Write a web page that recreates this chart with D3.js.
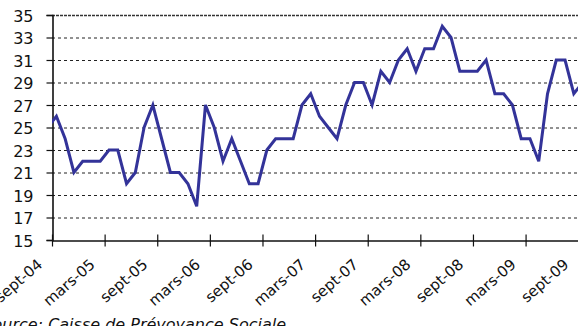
<!DOCTYPE html>
<html>
<head>
<meta charset="utf-8">
<script src="https://cdn.jsdelivr.net/npm/d3@7"></script>
<style>
  html, body { margin: 0; padding: 0; background: #fff; }
  svg { display: block; }
  .ylab { font-family: "DejaVu Sans", sans-serif; font-size: 16px; fill: #111; }
  .xlab { font-family: "DejaVu Sans", sans-serif; font-size: 15px; fill: #111; }
  .src  { font-family: "DejaVu Sans", sans-serif; font-size: 16px; font-style: italic; fill: #111; }
</style>
</head>
<body>
<svg id="chart" width="578" height="326"></svg>
<script>
// Monthly series, août-04 through sept-09 (first value sits just before the axis start)
const firstMonthOffset = -1; // août-04 relative to sept-04
const values = [
  25,
  26, 24, 21, 22, 22, 22, 23, 23, 20, 21,
  25, 27, 24, 21, 21, 20, 18, 27, 25, 22,
  24, 22, 20, 20, 23, 24, 24, 24, 27, 28,
  26, 25, 24, 27, 29, 29, 27, 30, 29, 31,
  32, 30, 32, 32, 34, 33, 30, 30, 30, 31,
  28, 28, 27, 24, 24, 22, 28, 31, 31, 28,
  29
];
const tickLabels = ["sept-04", "mars-05", "sept-05", "mars-06", "sept-06", "mars-07",
                    "sept-07", "mars-08", "sept-08", "mars-09", "sept-09"];
const tickStepMonths = 6;
const yTicks = [15, 17, 19, 21, 23, 25, 27, 29, 31, 33, 35];
const sourceText = "Source: Caisse de Prévoyance Sociale";

const svg = d3.select("#chart");
const plotLeft = 52, plotTop = 15, plotBottom = 240, monthW = 8.77;
const monthsSpan = 61;

const x = d3.scaleLinear().domain([0, monthsSpan]).range([plotLeft, plotLeft + monthsSpan * monthW]);
const y = d3.scaleLinear().domain([15, 35]).range([plotBottom, plotTop]);

// clip for the plotting area
svg.append("defs").append("clipPath").attr("id", "plotClip")
  .append("rect")
  .attr("x", plotLeft).attr("y", plotTop - 5)
  .attr("width", x.range()[1] - plotLeft).attr("height", plotBottom - plotTop + 5);

// horizontal dashed gridlines
svg.append("g").selectAll("line")
  .data(yTicks.filter(d => d > 15))
  .join("line")
  .attr("x1", plotLeft).attr("x2", 578)
  .attr("y1", d => y(d) + 0.5).attr("y2", d => y(d) + 0.5)
  .attr("stroke", d => d === 35 ? "#333" : "#222")
  .attr("stroke-width", d => d === 35 ? 1.4 : 1)
  .attr("stroke-dasharray", d => d === 35 ? "3,1" : "3,3");

// y axis
const yAxis = d3.axisLeft(y).tickValues(yTicks).tickSize(6).tickPadding(13);
const gy = svg.append("g").attr("transform", `translate(${plotLeft + 0.5},0)`).call(yAxis);
gy.select(".domain").attr("stroke", "#111").attr("stroke-width", 1.6);
gy.selectAll(".tick line").attr("stroke", "#111").attr("stroke-width", 1.2);
gy.selectAll(".tick text").attr("class", "ylab").attr("dy", "0.4em");

// x axis with crossing tick marks
const tickPos = tickLabels.map((_, i) => i * tickStepMonths);
const xAxis = d3.axisBottom(x).tickValues(tickPos).tickSize(0).tickFormat((d, i) => tickLabels[i]);
const gx = svg.append("g").attr("transform", `translate(0,${plotBottom + 0.5})`).call(xAxis);
gx.select(".domain").attr("stroke", "#111").attr("stroke-width", 1.6);
gx.selectAll(".tick").append("line")
  .attr("y1", -6).attr("y2", 6)
  .attr("stroke", "#111").attr("stroke-width", 1.2);
gx.selectAll(".tick text")
  .attr("class", "xlab")
  .attr("text-anchor", "end")
  .attr("dy", null)
  .attr("transform", "translate(-12,22) rotate(-41)")
  .attr("y", 0).attr("x", 0)
  .attr("dominant-baseline", "middle");

// the series line
const line = d3.line()
  .x((d, i) => x(i + firstMonthOffset + 0.5))
  .y(d => y(d));

svg.append("path")
  .datum(values)
  .attr("clip-path", "url(#plotClip)")
  .attr("fill", "none")
  .attr("stroke", "#333399")
  .attr("stroke-width", 3)
  .attr("stroke-linejoin", "miter")
  .attr("d", line);

// source note
svg.append("text")
  .attr("class", "src")
  .attr("x", 286).attr("y", 330)
  .attr("text-anchor", "end")
  .text(sourceText);
</script>
</body>
</html>
